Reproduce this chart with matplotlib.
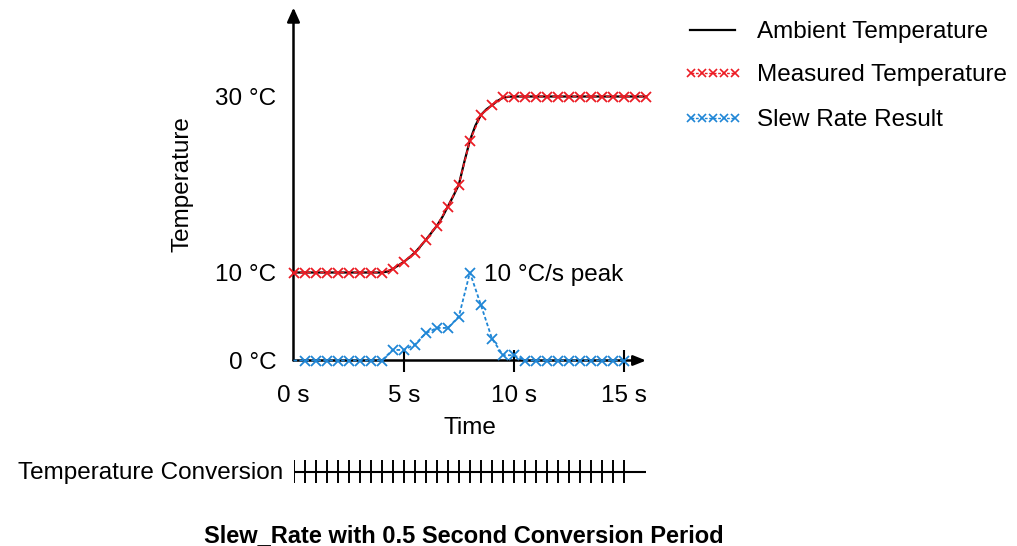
import numpy as np
import matplotlib
matplotlib.use("Agg")
import matplotlib.pyplot as plt
from matplotlib.lines import Line2D

plt.rcParams['font.family'] = ['Liberation Sans', 'DejaVu Sans']

# ---------------- data ----------------
sample_time = [0.0, 0.5, 1.0, 1.5, 2.0, 2.5, 3.0, 3.5, 4.0, 4.5, 5.0, 5.5, 6.0, 6.5,
               7.0, 7.5, 8.0, 8.5, 9.0, 9.5, 10.0, 10.5, 11.0, 11.5, 12.0, 12.5,
               13.0, 13.5, 14.0, 14.5, 15.0, 15.5, 16.0]
measured_temp = [10, 10, 10, 10, 10, 10, 10, 10, 10, 10.4, 11.2, 12.25, 13.7, 15.3,
                 17.5, 20.0, 25.0, 27.9, 29.0, 29.95, 30, 30, 30, 30, 30, 30,
                 30, 30, 30, 30, 30, 30, 30]

ambient_time = [0.0, 4.0, 4.25, 4.5, 4.75, 5.0, 5.25, 5.5, 5.75, 6.0, 6.25, 6.5, 6.75,
                7.0, 7.25, 7.5, 7.75, 8.0, 8.25, 8.5, 8.75, 9.0, 9.25, 9.5, 9.75,
                10.0, 16.0]
ambient_temp = [10, 10, 10.1, 10.4, 10.8, 11.2, 11.7, 12.25, 12.95, 13.7, 14.5, 15.3,
                16.3, 17.5, 18.7, 20.0, 22.6, 25.0, 26.7, 27.9, 28.55, 29.0, 29.5,
                29.85, 29.97, 30, 30]

slew_time = [0.0, 0.5, 1.0, 1.5, 2.0, 2.5, 3.0, 3.5, 4.0, 4.5, 5.0, 5.5, 6.0, 6.5,
             7.0, 7.5, 8.0, 8.5, 9.0, 9.5, 10.0, 10.5, 11.0, 11.5, 12.0, 12.5,
             13.0, 13.5, 14.0, 14.5, 15.0]
slew_rate = [0, 0, 0, 0, 0, 0, 0, 0, 0, 1.2, 1.2, 1.8, 3.1, 3.7,
             3.7, 5.0, 10.0, 6.3, 2.5, 0.6, 0.6, 0, 0, 0, 0, 0,
             0, 0, 0, 0, 0]

conversion_time = [0.0, 0.5, 1.0, 1.5, 2.0, 2.5, 3.0, 3.5, 4.0, 4.5, 5.0, 5.5, 6.0,
                   6.5, 7.0, 7.5, 8.0, 8.5, 9.0, 9.5, 10.0, 10.5, 11.0, 11.5, 12.0,
                   12.5, 13.0, 13.5, 14.0, 14.5, 15.0]

x_ticks = [0, 5, 10, 15]
x_ticklabels = ["0 s", "5 s", "10 s", "15 s"]
y_ticks = [0, 10, 30]
y_ticklabels = ["0 °C", "10 °C", "30 °C"]
series_labels = ["Ambient Temperature", "Measured Temperature", "Slew Rate Result"]

RED = "#ec1c24"
BLUE = "#1f86d6"
FS = 17.5

# ---------------- layout (pixels) ----------------
W, H = 1017, 546
fig = plt.figure(figsize=(W / 100, H / 100), dpi=100)

x0_px, px_per_s = 293.5, 22.05
y0_px, px_per_deg = 360.5, 8.8
xmax, ymax = 16.7, 40.1
ax = fig.add_axes([x0_px / W, (H - y0_px) / H,
                   xmax * px_per_s / W, ymax * px_per_deg / H])
ax.set_xlim(0, xmax)
ax.set_ylim(0, ymax)
for s in ax.spines.values():
    s.set_visible(False)

# axes with arrows
ax.annotate("", xy=(15.99, 0), xytext=(0, 0),
            arrowprops=dict(arrowstyle="-|>,head_length=0.75,head_width=0.3",
                            color="black", lw=1.8, shrinkA=0, shrinkB=0),
            annotation_clip=False)
ax.annotate("", xy=(0, ymax), xytext=(0, 0),
            arrowprops=dict(arrowstyle="-|>,head_length=0.85,head_width=0.38",
                            color="black", lw=1.8, shrinkA=0, shrinkB=0),
            annotation_clip=False)

# series
ax.plot(ambient_time, ambient_temp, color="black", lw=1.6, zorder=3, clip_on=False)
ax.plot(sample_time, measured_temp, color=RED, lw=1.2, ls=(0, (2.5, 1.5)),
        marker="x", ms=6.5, mew=1.3, zorder=4, clip_on=False)
ax.plot(slew_time, slew_rate, color=BLUE, lw=1.3, ls=(0, (2.0, 1.3)),
        marker="x", ms=6.5, mew=1.3, markevery=slice(1, None), zorder=4, clip_on=False)

# peak annotation
peak_i = int(np.argmax(slew_rate))
ax.annotate("10 °C/s peak", xy=(slew_time[peak_i], slew_rate[peak_i]),
            xytext=(10, -2), textcoords="offset points",
            ha="left", va="center", fontsize=FS)

# ticks
ax.xaxis.remove_overlapping_locs = False
ax.set_xticks(x_ticks)
ax.set_xticklabels(x_ticklabels)
ax.set_yticks(y_ticks)
ax.set_yticklabels(y_ticklabels)
ax.tick_params(axis="both", which="major", length=0, labelsize=FS)
ax.tick_params(axis="x", which="major", pad=18)
ax.tick_params(axis="y", which="major", pad=12.5)
ax.set_xticks([5, 10, 15], minor=True)
ax.tick_params(axis="x", which="minor", direction="inout", length=16.5, width=1.5,
               color="black", labelbottom=False)

ax.set_xlabel("Time", fontsize=FS)
ax.xaxis.set_label_coords((470 - x0_px) / (xmax * px_per_s),
                          (y0_px - 428) / (ymax * px_per_deg))
ax.xaxis.label.set_va("center")
ax.set_ylabel("Temperature", fontsize=FS)
ax.yaxis.set_label_coords((183 - x0_px) / (xmax * px_per_s),
                          (y0_px - 184) / (ymax * px_per_deg))
ax.yaxis.label.set_va("center")

# ---------------- conversion strip ----------------
strip_top, strip_bot = 459, 484
ax2 = fig.add_axes([x0_px / W, (H - strip_bot) / H,
                    xmax * px_per_s / W, (strip_bot - strip_top) / H])
ax2.set_xlim(0, xmax)
ax2.set_ylim(0, 1)
ax2.axis("off")
ax2.hlines(0.5, conversion_time[0], sample_time[-1], color="black", lw=1.5)
ax2.vlines(conversion_time, 0.04, 0.96, color="black", lw=1.4)
fig.text(283 / W, 1 - 473 / H, "Temperature Conversion", ha="right", va="center",
         fontsize=FS)

# ---------------- legend (manual) ----------------
def fx(px):
    return px / W

def fy(py):
    return 1 - py / H

leg_rows = [30, 73, 118]
fig.add_artist(Line2D([fx(690), fx(735)], [fy(leg_rows[0])] * 2,
                      color="black", lw=1.6, transform=fig.transFigure))
leg_x = [691, 702, 713, 724, 735]
for row, col in zip(leg_rows[1:], [RED, BLUE]):
    fig.add_artist(Line2D([fx(v) for v in leg_x], [fy(row)] * len(leg_x),
                          color=col, lw=1.0, ls=(0, (2.0, 1.2)), marker="x",
                          ms=5.5, mew=1.2, transform=fig.transFigure))
for row, lab in zip(leg_rows, series_labels):
    fig.text(fx(757), fy(row + 2), lab, ha="left", va="center", fontsize=FS)

# ---------------- title ----------------
fig.text(464 / W, 1 - 536 / H, "Slew_Rate with 0.5 Second Conversion Period",
         ha="center", va="center", fontsize=17, fontweight="bold")

fig.savefig("out.png", dpi=100)
